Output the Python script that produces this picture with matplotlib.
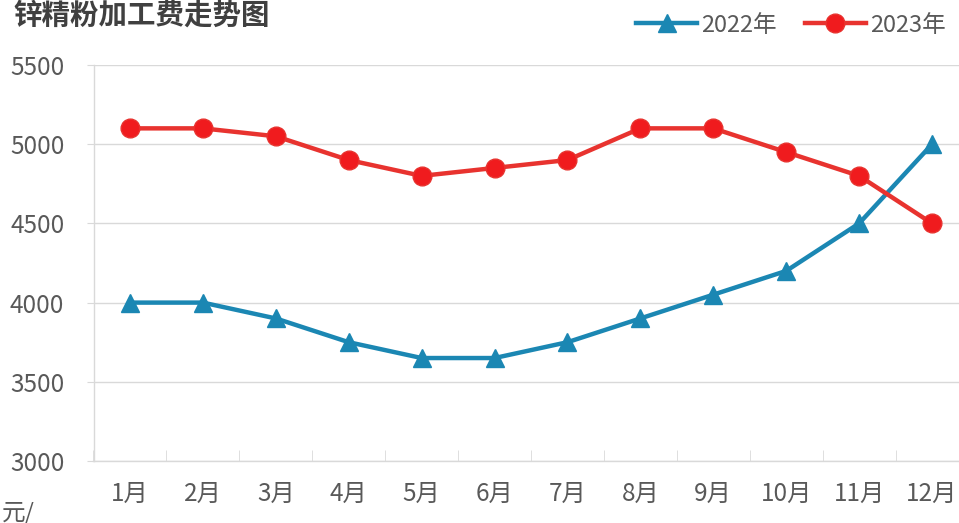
import matplotlib.pyplot as plt
import numpy as np

plt.rcParams['font.family'] = ['Noto Sans CJK SC', 'DejaVu Sans']

months = ['1月', '2月', '3月', '4月', '5月', '6月', '7月', '8月', '9月', '10月', '11月', '12月']
fee_2022 = [4000, 4000, 3900, 3750, 3650, 3650, 3750, 3900, 4050, 4200, 4500, 5000]
fee_2023 = [5100, 5100, 5050, 4900, 4800, 4850, 4900, 5100, 5100, 4950, 4800, 4500]
yticks = [3000, 3500, 4000, 4500, 5000, 5500]

blue = '#1b87b3'
red = '#e8332f'
grey_txt = '#595959'
grid_c = '#d9d9d9'

fig = plt.figure(figsize=(9.59, 5.23), dpi=100)
ax = fig.add_axes([93.5 / 959, 1 - 461 / 523, 875 / 959, (461 - 65) / 523])

x = np.arange(len(months))
ax.plot(x, fee_2022, color=blue, lw=3.2, marker='^', markersize=13.5,
        markerfacecolor=blue, markeredgecolor=blue, label='2022年', zorder=3)
ax.plot(x, fee_2023, color=red, lw=3.2, marker='o', markersize=13.5,
        markerfacecolor='#f01b1e', markeredgecolor=red, label='2023年', zorder=3)

ax.set_xlim(-0.5, 11.5)
ax.set_ylim(3000, 5500)
ax.set_yticks(yticks)
ax.set_yticklabels([str(v) for v in yticks])
ax.grid(axis='y', color=grid_c, lw=1)
ax.set_axisbelow(True)

ax.set_xticks(x)
ax.set_xticklabels(months)
ax.set_xticks(np.arange(-0.5, 12, 1), minor=True)
ax.tick_params(axis='x', which='major', length=0, pad=14, labelsize=17.5, labelcolor=grey_txt)
ax.tick_params(axis='x', which='minor', direction='in', length=8, color=grid_c)
ax.tick_params(axis='y', length=5, color=grid_c, pad=16, labelsize=17.5, labelcolor=grey_txt)

for s in ['top', 'right']:
    ax.spines[s].set_visible(False)
for s in ['left', 'bottom']:
    ax.spines[s].set_color(grid_c)
    ax.spines[s].set_linewidth(1)

fig.text(0.014, 0.97, '锌精粉加工费走势图', fontsize=20.5, fontweight='bold',
         color='#404040', ha='left', va='center')
fig.text(0.002, 0.02, '元/', fontsize=17, color=grey_txt, ha='left', va='center')

leg = fig.legend(loc='center right', bbox_to_anchor=(1.008, 0.952), ncol=2,
                 frameon=False, fontsize=17, handlelength=2.6, handletextpad=0.15,
                 columnspacing=1.2, labelcolor=grey_txt)

fig.savefig('out.png', dpi=100)
